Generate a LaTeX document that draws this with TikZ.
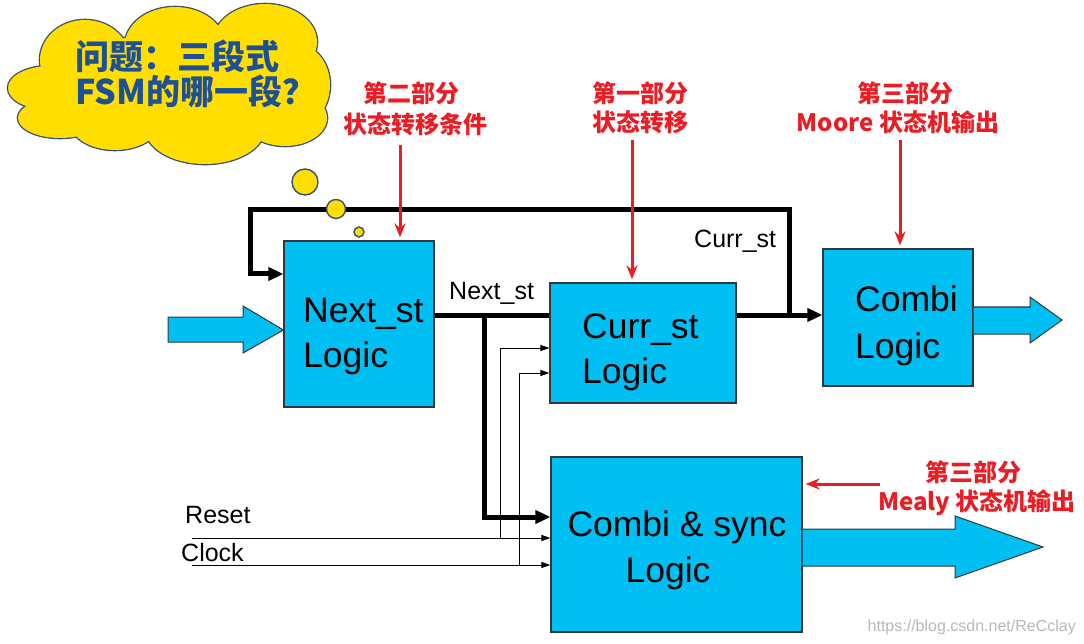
\documentclass[tikz,border=0pt]{standalone}
\usepackage{fontspec}
\setmainfont{Liberation Sans}
\newfontfamily\cjk{Noto Sans CJK SC}
\usetikzlibrary{arrows.meta}
\definecolor{boxcyan}{RGB}{0,191,243}
\definecolor{boxline}{RGB}{50,55,60}
\definecolor{cloudyel}{RGB}{255,222,0}
\definecolor{cloudline}{RGB}{55,80,115}
\definecolor{cloudtext}{RGB}{30,80,150}
\definecolor{annred}{RGB}{236,28,36}
\tikzset{
  blk/.style={draw=boxline, line width=1.2pt, fill=boxcyan, inner sep=0pt},
  blktext/.style={font=\fontsize{35.5}{38}\selectfont, anchor=base west, inner sep=0pt},
  sigtext/.style={font=\fontsize{25}{27}\selectfont, anchor=base west, inner sep=0pt},
  redtext/.style={font=\cjk\bfseries\fontsize{24}{27}\selectfont, text=annred, inner sep=0pt},
  bus/.style={line width=5pt, -{Triangle[length=15pt,width=13pt]}},
  busline/.style={line width=5pt},
  thin/.style={line width=1pt, -{Triangle[length=9pt,width=6pt]}},
  redarrow/.style={draw=annred, line width=3pt, -{Stealth[length=14pt,width=11pt]}},
  bigarrow/.style={draw=boxline, line width=1pt, fill=boxcyan},
  bubble/.style={draw=cloudline, line width=1.4pt, fill=cloudyel},
}
\begin{document}
\begin{tikzpicture}[x=1pt,y=-1pt]
\useasboundingbox (0,0) rectangle (1084,644);

% ---------- cloud ----------
\def\cloudlist{85/60/45/40, 175/45/50/38, 265/42/52/38, 298/85/32/40, 50/88/42/22, 60/118/42/20, 115/122/45/28, 205/128/60/36, 285/118/42/28, 170/85/130/50}
\foreach \cx/\cy/\rx/\ry in \cloudlist
  \draw[draw=cloudline, line width=2.6pt, fill=cloudyel] (\cx,\cy) ellipse [x radius=\rx, y radius=\ry];
\foreach \cx/\cy/\rx/\ry in \cloudlist
  \fill[cloudyel] (\cx,\cy) ellipse [x radius=\rx, y radius=\ry];
\node[font=\cjk\bfseries\fontsize{34}{38}\selectfont, text=cloudtext, anchor=west, inner sep=0pt] (q1) at (75,56) {问题：三段式};
\node[font=\cjk\bfseries\fontsize{34}{38}\selectfont, text=cloudtext, anchor=west, inner sep=0pt] (q2) at (75,91) {FSM的哪一段？};

% ---------- blocks ----------
\node[blk, minimum width=150pt, minimum height=166pt] (ns) at (359,324) {};
\node[blk, minimum width=186pt, minimum height=120pt] (cs) at (643,343) {};
\node[blk, minimum width=150pt, minimum height=137pt] (cb) at (898,317.5) {};
\node[blk, minimum width=251pt, minimum height=175pt] (cy) at (676.5,544.5) {};

\node[blktext] (nst1) at (303,322) {Next\_st};
\node[blktext] (nst2) at (303,367) {Logic};
\node[blktext] (cst1) at (582,338) {Curr\_st};
\node[blktext] (cst2) at (582,383) {Logic};
\node[blktext] (cbt1) at (855,312) {Combi};
\node[blktext] (cbt2) at (855,358) {Logic};
\node[blktext, anchor=base] (cyt1) at (677,536) {Combi \& sync};
\node[blktext, anchor=base] (cyt2) at (668,582) {Logic};

% ---------- big arrows ----------
\draw[bigarrow] (168,317) -- (243,317) -- (243,306) -- (ns.west |- 0,330) -- (243,353) -- (243,342) -- (168,342) -- cycle;
\draw[bigarrow] (cb.east |- 0,307) -- (1030,307) -- (1030,297) -- (1062,320) -- (1030,343) -- (1030,334) -- (cb.east |- 0,334);
\draw[bigarrow] (cy.east |- 0,529) -- (955,529) -- (955,516) -- (1043,547) -- (955,578) -- (955,566) -- (cy.east |- 0,566);

% ---------- buses ----------
\draw[busline] (ns.east |- 0,315) -- (cs.west |- 0,315);
\draw[bus] (484,313) -- (484,517) -- (cy.west |- 0,517);
\draw[bus] (cs.east |- 0,315) -- (cb.west |- 0,315);
\draw[bus] (789,317.5) -- (789,210) -- (250,210) -- (250,274) -- (ns.west |- 0,274);

% ---------- thin signals ----------
\coordinate (rs) at (192,538);
\coordinate (ck) at (192,565);
\draw[thin] (rs) -- (cy.west |- rs);
\draw[thin] (ck) -- (cy.west |- ck);
\draw[thin] (500,538) -- (500,348) -- (cs.west |- 0,348);
\draw[thin] (519,565) -- (519,373) -- (cs.west |- 0,373);

\node[sigtext] (lns) at (449,299) {Next\_st};
\node[sigtext] (lcs) at (694,248) {Curr\_st};
\node[sigtext] (lrs) at (185,523) {Reset};
\node[sigtext] (lck) at (181,561) {Clock};

% ---------- thought bubbles ----------
\draw[bubble] (305,182) circle (13);
\draw[bubble] (336,209) circle (9.5);
\draw[bubble] (359,232) circle (5);

% ---------- annotations ----------
\node[redtext] (a1) at (411,93) {第二部分};
\node[redtext] (a2) at (415,124) {状态转移条件};
\node[redtext] (b1) at (640,93) {第一部分};
\node[redtext] (b2) at (640,122) {状态转移};
\node[redtext] (c1) at (905,93) {第三部分};
\node[redtext] (c2) at (898,122) {Moore 状态机输出};
\node[redtext] (d1) at (973,472) {第三部分};
\node[redtext] (d2) at (977,503) {Mealy 状态机输出};

\coordinate (ra) at (400,145);
\coordinate (rb) at (632,140);
\coordinate (rc) at (900,140);
\coordinate (rd) at (880,484);
\draw[redarrow, shorten >=3pt] (ra) -- (ns.north -| ra);
\draw[redarrow, shorten >=3pt] (rb) -- (cs.north -| rb);
\draw[redarrow, shorten >=3pt] (rc) -- (cb.north -| rc);
\draw[redarrow, shorten >=3pt] (rd) -- (cy.east |- rd);

% ---------- watermark ----------
\node[font=\fontsize{16}{18}\selectfont, text=black!28, anchor=base east, inner sep=0pt] (wm) at (1076,631) {https://blog.csdn.net/ReCclay};
\end{tikzpicture}
\end{document}
